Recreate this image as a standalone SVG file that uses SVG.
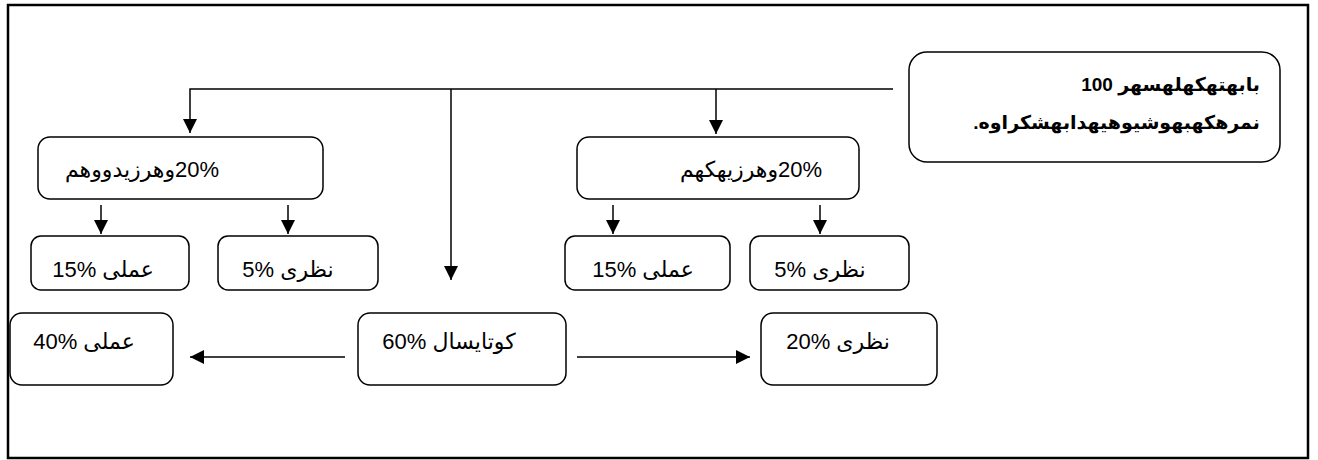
<svg xmlns="http://www.w3.org/2000/svg" width="1318" height="460" viewBox="0 0 1318 460">
<defs>
<marker id="ah" viewBox="0 0 14 14" markerWidth="14" markerHeight="14" markerUnits="userSpaceOnUse" refX="14" refY="7" orient="auto">
<path d="M0,0 L14,7 L0,14 z" fill="#000"/>
</marker>
</defs>
<style>
.box{fill:#fff;stroke:#000;stroke-width:1.5}
.t{font-family:"Liberation Sans","DejaVu Sans",sans-serif;font-size:22px;fill:#000}
.b{font-family:"Liberation Sans","DejaVu Sans",sans-serif;font-size:19px;font-weight:bold;fill:#000}
.c{fill:none;stroke:#000;stroke-width:1.5}
.a{fill:none;stroke:#000;stroke-width:1.5;marker-end:url(#ah)}
</style>
<rect x="8" y="5" width="1300" height="453" fill="#fff" stroke="#000" stroke-width="2.5"/>
<g id="connectors">
<polyline class="a" points="893,89 190,89 190,133"/>
<line class="a" x1="451" y1="89" x2="451" y2="280"/>
<line class="a" x1="716" y1="89" x2="716" y2="134"/>
<line class="a" x1="101" y1="205" x2="101" y2="234"/>
<line class="a" x1="288" y1="205" x2="288" y2="234"/>
<line class="a" x1="613" y1="205" x2="613" y2="234"/>
<line class="a" x1="820" y1="205" x2="820" y2="234"/>
<line class="a" x1="345" y1="357" x2="190" y2="357"/>
<line class="a" x1="577" y1="357" x2="750" y2="357"/>
</g>
<g id="root">
<rect class="box" x="909" y="52" width="371" height="110" rx="18"/>
<text class="b" x="1260" y="91" direction="rtl" text-anchor="start">بابهتهکهلهسهر &#x202A;100&#x202C;</text>
<text class="b" x="1260" y="129" direction="rtl" text-anchor="start">نمرهکهبهوشیوهیهدابهشکراوه.</text>
</g>
<g id="sem2">
<rect class="box" x="38" y="137" width="285" height="62" rx="12"/>
<text class="t" x="142" y="177" direction="rtl" text-anchor="middle">&#x202A;20%&#x202C;وهرزیدووهم</text>
</g>
<g id="sem1">
<rect class="box" x="577" y="137" width="282" height="62" rx="12"/>
<text class="t" x="751" y="177" direction="rtl" text-anchor="middle">&#x202A;20%&#x202C;وهرزیهکهم</text>
</g>
<g id="s2-practical">
<rect class="box" x="31" y="236" width="158" height="54" rx="10"/>
<text class="t" x="103" y="277" direction="rtl" text-anchor="middle">عملی &#x202A;15%&#x202C;</text>
</g>
<g id="s2-theory">
<rect class="box" x="218" y="236" width="160" height="54" rx="10"/>
<text class="t" x="288" y="277" direction="rtl" text-anchor="middle">نظری &#x202A;5%&#x202C;</text>
</g>
<g id="s1-practical">
<rect class="box" x="565" y="236" width="165" height="54" rx="10"/>
<text class="t" x="643" y="277" direction="rtl" text-anchor="middle">عملی &#x202A;15%&#x202C;</text>
</g>
<g id="s1-theory">
<rect class="box" x="750" y="236" width="159" height="54" rx="10"/>
<text class="t" x="820" y="277" direction="rtl" text-anchor="middle">نظری &#x202A;5%&#x202C;</text>
</g>
<g id="final-practical">
<rect class="box" x="10" y="313" width="163" height="72" rx="12"/>
<text class="t" x="84" y="349" direction="rtl" text-anchor="middle">عملی &#x202A;40%&#x202C;</text>
</g>
<g id="final">
<rect class="box" x="358" y="313" width="208" height="72" rx="12"/>
<text class="t" x="449" y="349" direction="rtl" text-anchor="middle">کوتایسال &#x202A;60%&#x202C;</text>
</g>
<g id="final-theory">
<rect class="box" x="761" y="313" width="176" height="72" rx="12"/>
<text class="t" x="838" y="349" direction="rtl" text-anchor="middle">نظری &#x202A;20%&#x202C;</text>
</g>
</svg>
